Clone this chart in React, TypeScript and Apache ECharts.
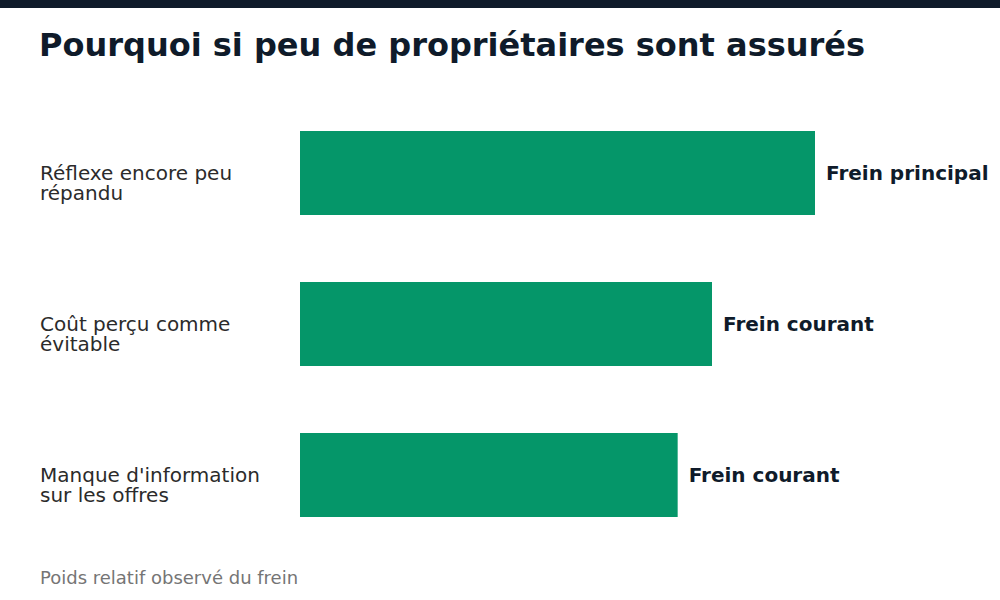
import React, { useEffect, useRef } from "react";
import * as echarts from "echarts";

// Barriers to insurance among owners, top to bottom
const categories = [
  "Réflexe encore peu\nrépandu",
  "Coût perçu comme\névitable",
  "Manque d'information\nsur les offres",
];
// Relative weight of each barrier (0–100 scale)
const weights = [75, 60, 55];
// Qualitative label shown at the end of each bar
const verdicts = ["Frein principal", "Frein courant", "Frein courant"];

const TITLE = "Pourquoi si peu de propriétaires sont assurés";
const FOOTNOTE = "Poids relatif observé du frein";

const DARK = "#0f1b2a";
const GREEN = "#059669";
const FONT = "DejaVu Sans, sans-serif";

export default function App() {
  const ref = useRef<HTMLDivElement>(null);

  useEffect(() => {
    if (!ref.current) return;
    const chart = echarts.init(ref.current, null, { renderer: "svg" });
    chart.setOption({
      animation: false,
      backgroundColor: "#ffffff",
      textStyle: { fontFamily: FONT },
      title: {
        text: TITLE,
        left: 34,
        top: 24,
        textStyle: { fontFamily: FONT, fontSize: 32, fontWeight: "bold", color: DARK },
      },
      graphic: [
        { type: "rect", left: 0, top: 0, shape: { width: 1000, height: 8 }, style: { fill: DARK } },
        {
          type: "text",
          x: 40,
          y: 577,
          style: {
            text: FOOTNOTE,
            fontFamily: FONT,
            fontSize: 18,
            fill: "#757575",
            verticalAlign: "middle",
          },
        },
      ],
      grid: { left: 300, top: 97.5, width: 686.67, height: 453, containLabel: false },
      xAxis: { type: "value", min: 0, max: 100, show: false },
      yAxis: {
        type: "category",
        inverse: true,
        data: categories,
        axisLine: { show: false },
        axisTick: { show: false },
        axisLabel: {
          align: "left",
          verticalAlign: "middle",
          margin: 260,
          fontFamily: FONT,
          fontSize: 20,
          lineHeight: 20,
          color: "#2b2b2b",
          // an empty leading line puts the first text line on the bar's centre line
          formatter: (v: string) => "\n" + v,
        },
      },
      series: [
        {
          type: "bar",
          data: weights,
          barWidth: 84,
          itemStyle: { color: GREEN },
          label: {
            show: true,
            position: "right",
            distance: 11,
            fontFamily: FONT,
            fontSize: 20,
            fontWeight: "bold",
            color: DARK,
            formatter: (p: any) => verdicts[p.dataIndex],
          },
        },
      ],
    });
    return () => chart.dispose();
  }, []);

  return (
    <div
      ref={ref}
      style={{ position: "absolute", left: 0, top: 0, width: 1000, height: 600 }}
    />
  );
}
